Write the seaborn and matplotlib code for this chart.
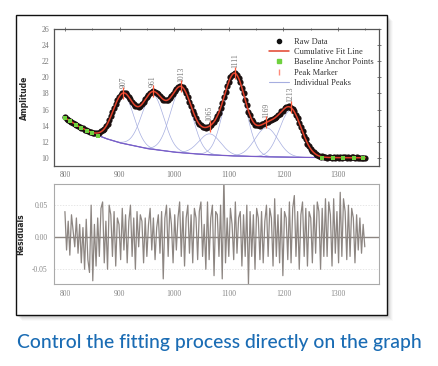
import numpy as np
import pandas as pd
import matplotlib
matplotlib.use("Agg")
import matplotlib.pyplot as plt
import seaborn as sns
from matplotlib.patches import Rectangle
from matplotlib.lines import Line2D
from matplotlib.ticker import MultipleLocator

# ---------------- data ----------------
peak_centers = [907, 961, 1013, 1065, 1111, 1169, 1213]
peak_labels = ["907", "961", "1013", "1065", "1111", "1169", "1213"]
peak_amps = [6.1, 6.8, 7.9, 2.6, 10.0, 3.6, 5.8]
peak_sigmas = [19, 20, 20, 20, 20, 21, 20]

baseline_x = [800, 825, 850, 875, 900, 950, 1000, 1050, 1100, 1150, 1200, 1250, 1300, 1350]
baseline_y = [15.0, 13.92, 13.08, 12.41, 11.89, 11.17, 10.72, 10.44, 10.27, 10.17, 10.10, 10.06, 10.04, 10.02]

anchor_x = [800, 810, 820, 830, 840, 850, 860, 1270, 1290, 1310, 1330, 1345]
anchor_y = [15.0, 14.53, 14.12, 13.73, 13.39, 13.08, 12.78, 10.05, 10.04, 10.04, 10.03, 10.02]

resid_start = 800
resid_step = 3
residuals = [
    0.040, -0.020, 0.025, -0.028, 0.035, 0.010, -0.015, 0.030, -0.025, 0.020,
    -0.040, 0.015, -0.050, 0.028, -0.035, -0.055, 0.050, -0.068, 0.020, -0.045,
    0.030, -0.030, 0.045, 0.055, -0.040, 0.025, -0.050, 0.050, 0.035, -0.030,
    0.040, -0.045, 0.030, 0.020, -0.035, 0.045, -0.020, 0.035, -0.040, 0.025,
    0.050, -0.030, 0.030, -0.050, 0.040, -0.015, 0.035, 0.025, -0.040, 0.030,
    -0.030, 0.020, 0.045, -0.020, 0.030, -0.035, 0.015, 0.035, -0.025, 0.040,
    -0.065, 0.030, 0.050, -0.030, 0.045, 0.020, -0.040, 0.035, -0.020, 0.030,
    0.055, -0.030, 0.040, -0.045, 0.030, 0.050, -0.025, 0.035, -0.040, 0.045,
    0.030, -0.035, 0.040, 0.055, -0.030, 0.020, -0.050, 0.055, -0.035, 0.030,
    0.050, -0.060, 0.040, 0.035, -0.030, 0.050, -0.065, 0.095, -0.040, 0.030,
    -0.030, 0.045, 0.020, -0.035, 0.055, -0.025, 0.030, 0.040, -0.045, 0.035,
    -0.030, 0.050, -0.073, 0.040, -0.030, 0.035, -0.050, 0.045, 0.030, -0.035,
    0.040, -0.040, 0.025, 0.050, -0.030, 0.045, 0.030, -0.045, 0.060, -0.030,
    0.035, -0.040, 0.045, -0.060, 0.040, 0.030, -0.035, 0.055, -0.040, 0.045,
    0.065, -0.030, 0.040, -0.050, 0.035, 0.055, -0.030, 0.045, -0.045, 0.040,
    0.030, -0.040, 0.050, -0.025, 0.055, 0.040, -0.050, 0.045, -0.030, 0.060,
    -0.030, 0.055, 0.035, -0.045, 0.060, -0.025, 0.040, -0.040, 0.070, -0.030,
    0.060, 0.040, -0.035, 0.050, -0.030, 0.045, 0.030, -0.040, 0.035, -0.020,
    0.030, -0.025, 0.020, -0.015,
]

x_ticks = [800, 900, 1000, 1100, 1200, 1300]
y_ticks_top = [10, 12, 14, 16, 18, 20, 22, 24, 26]
y_ticks_res = [-0.05, 0.0, 0.05]
caption = "Control the fitting process directly on the graph"

# ---------------- model of the fit ----------------
xf = np.arange(800, 1351, 1.0)
base_f = np.interp(xf, baseline_x, baseline_y)

def peak_curve(x, c, a, s):
    return a * np.exp(-((x - c) ** 2) / (2.0 * s * s))

peaks_f = [peak_curve(xf, c, a, s) for c, a, s in zip(peak_centers, peak_amps, peak_sigmas)]
fit_f = base_f + np.sum(peaks_f, axis=0)

xr = resid_start + resid_step * np.arange(len(residuals))
raw_y = np.interp(xr, xf, fit_f) + np.array(residuals)
peak_tops = np.interp(peak_centers, xf, fit_f)

df_fit = pd.DataFrame({"x": xf, "fit": fit_f, "base": base_f})
df_raw = pd.DataFrame({"x": xr, "y": raw_y})
df_res = pd.DataFrame({"x": xr, "r": residuals})
df_anc = pd.DataFrame({"x": anchor_x, "y": anchor_y})

# ---------------- style ----------------
sns.set_style("white")
plt.rcParams["font.family"] = ["Liberation Serif", "DejaVu Serif"]

W, H = 438, 366
fig = plt.figure(figsize=(W / 100, H / 100), dpi=100)
fig.patch.set_facecolor("white")

# frame with shadow
fx0, fx1, fy0, fy1 = 16, 387, 15, 315
for i, a in enumerate([0.07, 0.06, 0.05, 0.04, 0.03, 0.02]):
    o = i + 1
    fig.add_artist(Rectangle(((fx0 + o) / W, 1 - (fy1 + o) / H), (fx1 - fx0) / W, (fy1 - fy0) / H,
                             transform=fig.transFigure, facecolor="black", edgecolor="none",
                             alpha=a, zorder=-3))
fig.add_artist(Rectangle((fx0 / W, 1 - fy1 / H), (fx1 - fx0) / W, (fy1 - fy0) / H,
                         transform=fig.transFigure, facecolor="white", edgecolor="#111111",
                         linewidth=1.0, zorder=-2))

ax1 = fig.add_axes([54 / W, 1 - 166 / H, 325 / W, 137 / H])
ax2 = fig.add_axes([54 / W, 1 - 284 / H, 325 / W, 100 / H])
ax1.set_zorder(2)
ax2.set_zorder(2)

# ---------------- top panel ----------------
peak_col = "#a6aee0"
for pf in peaks_f:
    sns.lineplot(x=xf, y=base_f + pf, ax=ax1, color=peak_col, lw=0.5, legend=False)
sns.lineplot(data=df_fit, x="x", y="base", ax=ax1, color="#7a5cc8", lw=0.9, legend=False)
sns.scatterplot(data=df_raw, x="x", y="y", ax=ax1, color="#1a1010", s=20, linewidth=0,
                legend=False, zorder=3)
sns.lineplot(data=df_fit, x="x", y="fit", ax=ax1, color="#e2412b", lw=1.1, legend=False, zorder=4)
sns.scatterplot(data=df_anc, x="x", y="y", ax=ax1, color="#6fd13e", s=8, marker="s",
                linewidth=0, legend=False, zorder=5)
ax1.plot(peak_centers, peak_tops, linestyle="none", marker="|", markersize=8,
         markeredgewidth=0.9, color="#ff5a3c", zorder=6)
for c, t, lab in zip(peak_centers, peak_tops, peak_labels):
    ax1.text(c, t + 0.6, lab, rotation=90, ha="center", va="bottom", fontsize=5.5,
             color="#777777")

ax1.set_xlim(780, 1375)
ax1.set_ylim(9, 26)
ax1.set_xticks(x_ticks)
ax1.xaxis.set_minor_locator(MultipleLocator(50))
ax1.set_yticks(y_ticks_top)
ax1.set_xlabel("")
ax1.set_ylabel("Amplitude", fontsize=5.5, fontweight="bold", family="DejaVu Sans")
ax1.yaxis.set_label_coords(-0.076, 0.5)
for s in ax1.spines.values():
    s.set_color("#555555")
    s.set_linewidth(0.9)
ax1.tick_params(which="both", direction="inout", top=True, right=True, length=3,
                width=0.6, color="#666666", labelsize=5.5, labelcolor="#777777", pad=2)
ax1.tick_params(which="minor", length=2)

handles = [
    Line2D([], [], linestyle="none", marker="o", markersize=3, color="#111111"),
    Line2D([], [], color="#e2412b", lw=1.1),
    Line2D([], [], linestyle="none", marker="s", markersize=2.5, color="#6fd13e"),
    Line2D([], [], linestyle="none", marker="|", markersize=5, color="#ff8a7a"),
    Line2D([], [], color=peak_col, lw=0.8),
]
ax1.legend(handles, ["Raw Data", "Cumulative Fit Line", "Baseline Anchor Points",
                     "Peak Marker", "Individual Peaks"],
           loc="upper right", bbox_to_anchor=(1.0, 0.98), frameon=False, fontsize=6,
           handlelength=2.4, handletextpad=0.5, labelspacing=0.28, borderpad=0.2,
           labelcolor="#333333")

# ---------------- residual panel ----------------
sns.lineplot(data=df_res, x="x", y="r", ax=ax2, color="#8d8682", lw=0.9, legend=False)
ax2.axhline(0, color="#8d8682", lw=1.0, zorder=0)
for yv in (-0.05, 0.05):
    ax2.axhline(yv, color="#dddddd", lw=0.5, ls=(0, (2, 2)), zorder=0)
ax2.set_xlim(780, 1375)
ax2.set_ylim(-0.073, 0.083)
ax2.set_xticks(x_ticks)
ax2.xaxis.set_minor_locator(MultipleLocator(50))
ax2.set_yticks(y_ticks_res)
ax2.set_yticklabels(["-0.05", "0.00", "0.05"])
ax2.set_xlabel("")
ax2.set_ylabel("Residuals", fontsize=5.5, fontweight="bold", family="DejaVu Sans")
ax2.yaxis.set_label_coords(-0.087, 0.5)
for s in ax2.spines.values():
    s.set_color("#aaaaaa")
    s.set_linewidth(0.8)
ax2.tick_params(which="both", direction="out", length=2.5, width=0.6, color="#aaaaaa",
                labelsize=5.5, labelcolor="#888888", pad=2)
ax2.tick_params(which="minor", length=2)

# ---------------- caption ----------------
t = fig.text(17 / W, 1 - 348 / H, caption, color="#1a6cb4", fontsize=14,
             family=["Lato", "DejaVu Sans"], fontweight="medium", ha="left", va="baseline")
fig.canvas.draw()
w = t.get_window_extent().width
t.set_fontsize(14 * 405 / w)

fig.savefig("out.png", dpi=100, facecolor="white")
